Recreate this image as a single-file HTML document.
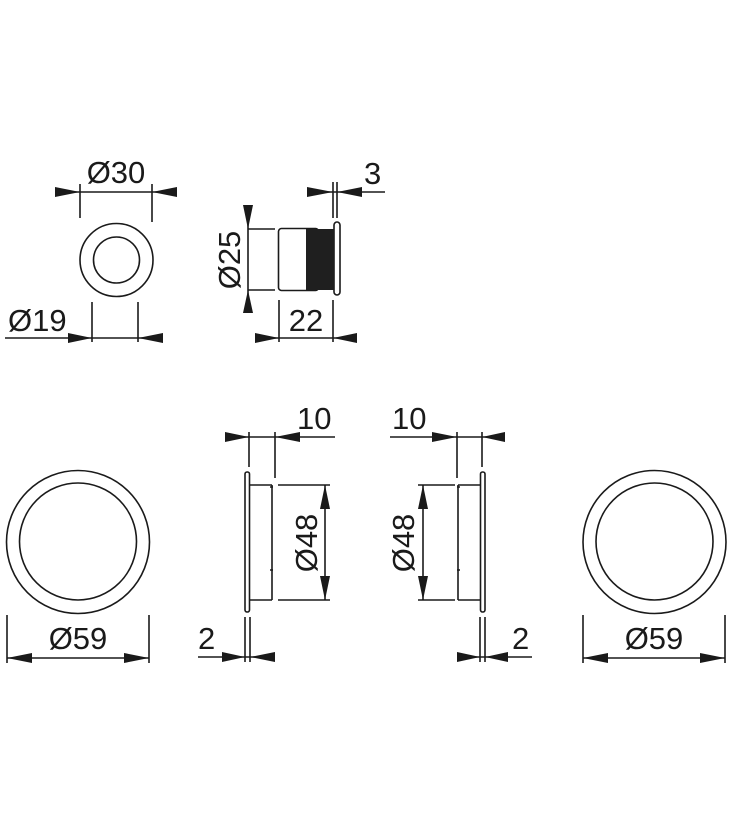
<!DOCTYPE html>
<html><head><meta charset="utf-8"><style>
html,body{margin:0;padding:0;background:#fff;}
svg{display:block;}
text{font-family:"Liberation Sans",sans-serif;font-size:31px;fill:#1a1a1a;}
</style></head><body>
<svg width="732" height="822" viewBox="0 0 732 822" xmlns="http://www.w3.org/2000/svg">
<g stroke="#1a1a1a" stroke-width="1.6" fill="none">
<circle cx="116.5" cy="260" r="36.5"/>
<circle cx="116.5" cy="260" r="23"/>
<line x1="80" y1="184" x2="80" y2="218"/><line x1="152" y1="184" x2="152" y2="222"/>
<line x1="55" y1="192" x2="177" y2="192"/>
<line x1="92" y1="302" x2="92" y2="342"/><line x1="138" y1="302" x2="138" y2="342"/>
<line x1="5" y1="338" x2="163" y2="338"/>
<line x1="248" y1="229" x2="275" y2="229"/><line x1="248" y1="290" x2="275" y2="290"/>
<line x1="248" y1="205" x2="248" y2="313"/>
<rect x="278.5" y="228.5" width="40" height="62" rx="3"/>
<rect x="334" y="222" width="6" height="73" rx="3"/>
<line x1="333" y1="182" x2="333" y2="218"/><line x1="337" y1="182" x2="337" y2="218"/>
<line x1="307" y1="192" x2="385" y2="192"/>
<line x1="279" y1="300" x2="279" y2="342"/><line x1="333" y1="300" x2="333" y2="342"/>
<line x1="255" y1="338" x2="357" y2="338"/>
<circle cx="78" cy="542" r="71.5"/><circle cx="78" cy="541.5" r="58.5"/>
<line x1="7" y1="615" x2="7" y2="663"/><line x1="149" y1="615" x2="149" y2="663"/>
<line x1="7" y1="658" x2="149" y2="658"/>
<circle cx="654.5" cy="542" r="71.5"/><circle cx="654.5" cy="541.5" r="58.5"/>
<line x1="583" y1="615" x2="583" y2="663"/><line x1="725" y1="615" x2="725" y2="663"/>
<line x1="583" y1="658" x2="725" y2="658"/>
<rect x="245" y="472" width="4.5" height="140" rx="2"/>
<path d="M249.5 485 H272 M249.5 600 H272 M272 485 V600"/>
<path d="M270 487 h3 M270 570 h3"/>
<line x1="249" y1="432" x2="249" y2="467"/><line x1="275" y1="432" x2="275" y2="478"/>
<line x1="225" y1="437" x2="335" y2="437"/>
<line x1="278" y1="485" x2="330" y2="485"/><line x1="278" y1="600" x2="330" y2="600"/>
<line x1="325" y1="485" x2="325" y2="600"/>
<line x1="245" y1="617" x2="245" y2="662"/><line x1="250" y1="617" x2="250" y2="662"/>
<line x1="198" y1="657" x2="275" y2="657"/>
<rect x="480.5" y="472" width="4.5" height="140" rx="2"/>
<path d="M480.5 485 H458 M480.5 600 H458 M458 485 V600"/>
<path d="M457 487 h3 M457 570 h3"/>
<line x1="457" y1="432" x2="457" y2="478"/><line x1="482" y1="432" x2="482" y2="467"/>
<line x1="390" y1="437" x2="505" y2="437"/>
<line x1="418" y1="485" x2="455" y2="485"/><line x1="418" y1="600" x2="455" y2="600"/>
<line x1="423" y1="485" x2="423" y2="600"/>
<line x1="480" y1="617" x2="480" y2="662"/><line x1="485" y1="617" x2="485" y2="662"/>
<line x1="457" y1="657" x2="532" y2="657"/>
</g>
<rect x="306" y="229" width="28" height="61" fill="#1f1f1f"/>
<g fill="#1a1a1a">
<polygon points="80,192 55,187 55,197"/><polygon points="152,192 177,187 177,197"/>
<polygon points="92,338 68,333 68,343"/><polygon points="138,338 163,333 163,343"/>
<polygon points="248,229 243,205 253,205"/><polygon points="248,290 243,313 253,313"/>
<polygon points="333,192 307,187 307,197"/><polygon points="337,192 362,187 362,197"/>
<polygon points="279,338 255,333 255,343"/><polygon points="333,338 357,333 357,343"/>
<polygon points="7,658 32,653 32,663"/><polygon points="149,658 124,653 124,663"/>
<polygon points="583,658 608,653 608,663"/><polygon points="725,658 700,653 700,663"/>
<polygon points="249,437 225,432 225,442"/><polygon points="275,437 300,432 300,442"/>
<polygon points="325,485 320,509 330,509"/><polygon points="325,600 320,576 330,576"/>
<polygon points="245,657 222,652 222,662"/><polygon points="250,657 275,652 275,662"/>
<polygon points="457,437 432,432 432,442"/><polygon points="482,437 505,432 505,442"/>
<polygon points="423,485 418,509 428,509"/><polygon points="423,600 418,576 428,576"/>
<polygon points="480,657 457,652 457,662"/><polygon points="485,657 508,652 508,662"/>
</g>
<text x="116" y="183" text-anchor="middle">Ø30</text>
<text x="8" y="331">Ø19</text>
<text x="364" y="184">3</text>
<text x="306" y="331" text-anchor="middle">22</text>
<text transform="translate(240,260) rotate(-90)" text-anchor="middle">Ø25</text>
<text x="78" y="649" text-anchor="middle">Ø59</text>
<text x="654" y="649" text-anchor="middle">Ø59</text>
<text x="297" y="429">10</text>
<text x="392" y="429">10</text>
<text transform="translate(317,543) rotate(-90)" text-anchor="middle">Ø48</text>
<text transform="translate(414,543) rotate(-90)" text-anchor="middle">Ø48</text>
<text x="198" y="649">2</text>
<text x="512" y="649">2</text>
</svg>
</body></html>
